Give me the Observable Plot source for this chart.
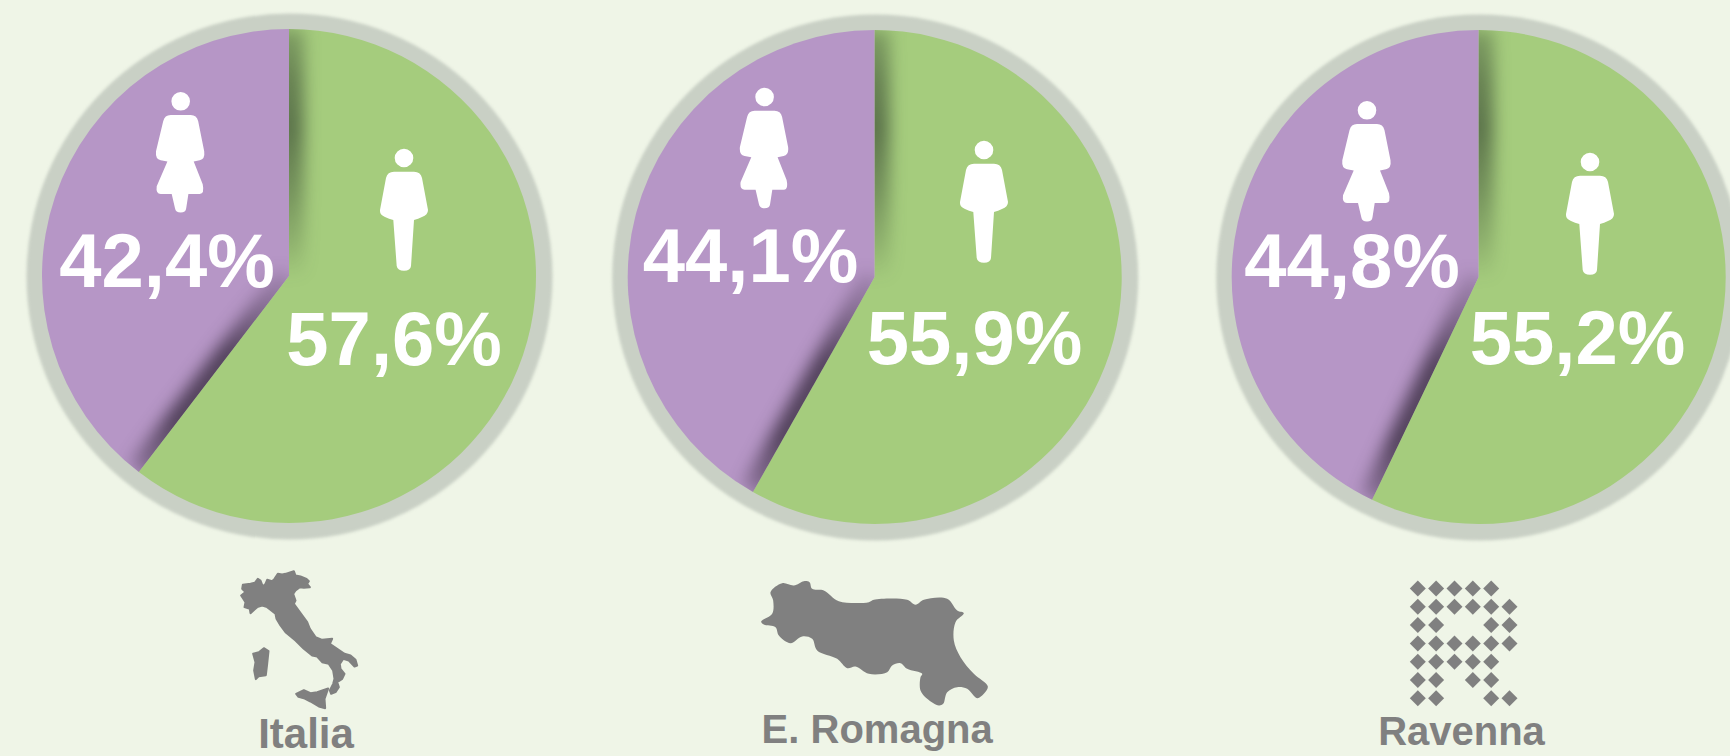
<!DOCTYPE html>
<html>
<head>
<meta charset="utf-8">
<script src="https://cdn.jsdelivr.net/npm/d3@7"></script>
<script src="https://cdn.jsdelivr.net/npm/@observablehq/plot@0.6"></script>
<style>
  html, body { margin: 0; padding: 0; background: #eff5e7; overflow: hidden; }
  svg { display: block; }
</style>
</head>
<body>
<div id="chart"></div>
<script>
// ---- data ----
const regions = ["Italia", "E. Romagna", "Ravenna"];
const menShare = [57.6, 55.9, 55.2];
const womenShare = [42.4, 44.1, 44.8];
// the slices as actually drawn in the picture (percent of the circle given to men)
const menSliceDrawn = [60.4, 58.2, 57.1];

// pictogram outlines
const italyMain = [[127,103],[150,100],[163,97],[172,85],[180,90],[187,108],[195,100],[200,88],[215,92],[222,85],[232,70],[245,72],[255,70],[280,62],[285,75],[300,78],[318,85],[325,92],[320,100],[328,110],[310,112],[298,110],[285,120],[278,130],[285,150],[280,160],[298,185],[320,215],[328,235],[345,260],[365,268],[395,265],[388,280],[410,295],[432,310],[450,315],[465,328],[470,345],[462,348],[445,330],[428,325],[418,340],[420,355],[432,370],[425,385],[410,395],[415,410],[405,425],[392,430],[388,420],[398,400],[402,385],[398,360],[385,340],[365,335],[350,318],[335,315],[310,295],[285,270],[255,245],[240,225],[228,205],[225,190],[200,170],[185,165],[170,170],[150,188],[148,175],[132,170],[135,155],[122,135],[135,125],[125,115]];
const italySardinia = [[158,310],[175,305],[190,293],[204,302],[200,340],[196,374],[175,377],[166,386],[161,360],[165,335]];
const italySicily = [[287,430],[310,419],[330,428],[350,425],[383,414],[372,445],[374,473],[355,468],[330,453],[310,443],[294,439]];
const romagnaOutline = [[90,95],[125,68],[160,75],[190,62],[207,65],[215,85],[250,90],[295,122],[385,125],[400,118],[500,118],[525,133],[550,118],[620,115],[650,150],[670,158],[645,185],[640,240],[660,290],[700,340],[742,378],[730,400],[710,413],[680,385],[650,380],[620,395],[608,430],[595,435],[560,415],[540,390],[540,350],[545,340],[500,325],[480,308],[455,315],[440,335],[385,340],[345,318],[320,323],[290,295],[230,270],[215,235],[185,228],[150,248],[115,225],[105,200],[70,192],[62,183],[95,160],[98,120]];
const ravennaRows = ["11111.", "111111", "11..11", "111111", "11111.", "11.11.", "11..11"];

// ---- layout and style ----
const W = 1730, H = 756, R = 247;
const pieX = [289, 874.7, 1478.7], pieY = [276, 277, 277];
const womanHead = [[180.7, 101.3], [764.6, 97], [1367, 110.3]];
const manHead = [[404, 158], [984, 150], [1590, 162]];
const womenText = [[166.5, 288], [750, 283], [1351.6, 288]];
const menText = [[393.6, 366], [974, 365.5], [1577, 365.5]];
const nameText = [[305.5, 749.5], [876.7, 744], [1461, 746]];
const nameSize = [42, 40, 40];
const PURPLE = "#b696c6", GREEN = "#a5cc7d", RING = "#c9d0c5", GREY = "#808080";
const FONT = "'Liberation Sans', Arial, sans-serif";
const fmt = v => v.toFixed(1).replace(".", ",") + "%";

const WOMAN = "M-10,13.7H10Q16,13.7 17.5,20L23.5,50Q24.5,58 19,59L13,60.3L22,83Q24,92.7 19,92.7H7.7L5.5,107Q5,111.3 0,111.3Q-5,111.3 -5.7,107L-9,92.7H-20Q-25,92.7 -24,85L-13.3,60.3L-20,59Q-25.5,58 -24.7,50L-17.5,20Q-16,13.7 -10,13.7Z M9.3,0A9.3,9.3 0 1 1 -9.3,0A9.3,9.3 0 1 1 9.3,0Z";
const MAN = "M-10,13.7H10Q16.5,13.7 18,20L24,52Q24,57 18,59Q14,61 10,62L7,108Q6.5,112.7 0,112.7Q-6.5,112.7 -7.3,108L-10.7,62Q-15,61 -19,59Q-24.5,57 -24,52L-18,20Q-16.5,13.7 -10,13.7Z M9.3,0A9.3,9.3 0 1 1 -9.3,0A9.3,9.3 0 1 1 9.3,0Z";

const pies = regions.map((name, i) => ({i, name, men: menShare[i], women: womenShare[i], drawn: menSliceDrawn[i], cx: pieX[i], cy: pieY[i]}));

const svgNS = "http://www.w3.org/2000/svg";
const el = (tag, attrs, parent) => {
  const n = document.createElementNS(svgNS, tag);
  for (const k in attrs) n.setAttribute(k, attrs[k]);
  if (parent) parent.appendChild(n);
  return n;
};

// slices and the soft shadows that fall along the two slice edges
function sliceMark(index, {x, y}) {
  const g = el("g", {});
  const defs = el("defs", {}, g);
  const arc = d3.arc().innerRadius(0).outerRadius(R);
  const tau = 2 * Math.PI;
  for (const p of pies) {
    const cx = x(p.cx), cy = y(p.cy);
    const a = p.drawn / 100 * tau;
    const pG = el("g", {transform: `translate(${cx},${cy})`}, g);
    const menPath = arc({startAngle: 0, endAngle: a});
    const womenPath = arc({startAngle: a, endAngle: tau});
    el("path", {d: womenPath, fill: PURPLE}, pG);
    el("path", {d: menPath, fill: GREEN}, pG);
    const c1 = el("clipPath", {id: "clipM" + p.i}, defs); el("path", {d: menPath}, c1);
    const c2 = el("clipPath", {id: "clipW" + p.i}, defs); el("path", {d: womenPath}, c2);
    const ex = R * Math.sin(a), ey = -R * Math.cos(a);
    const g1 = el("linearGradient", {id: "gM" + p.i, gradientUnits: "userSpaceOnUse", x1: 0, y1: -R, x2: 0, y2: 0}, defs);
    [[0, 0.3], [0.2, 0.5], [0.4, 0.6], [0.65, 0.4], [0.85, 0.2], [1, 0.02]].forEach(([o, v]) => el("stop", {offset: o, "stop-color": "#2c3a2a", "stop-opacity": v}, g1));
    const g2 = el("linearGradient", {id: "gW" + p.i, gradientUnits: "userSpaceOnUse", x1: 0, y1: 0, x2: ex, y2: ey}, defs);
    [[0, 0.15], [0.15, 0.35], [0.4, 0.75], [0.75, 0.75], [0.95, 0.4], [1, 0.25]].forEach(([o, v]) => el("stop", {offset: o, "stop-color": "#2f2436", "stop-opacity": v}, g2));
    const s1 = el("g", {"clip-path": `url(#clipM${p.i})`}, pG);
    el("rect", {x: -15, y: -R, width: 30, height: R, fill: `url(#gM${p.i})`, style: "filter:blur(8px)"}, s1);
    const s2 = el("g", {"clip-path": `url(#clipW${p.i})`}, pG);
    el("path", {d: `M0,0L${ex},${ey}`, stroke: `url(#gW${p.i})`, "stroke-width": 26, fill: "none", style: "filter:blur(8px)"}, s2);
  }
  return g;
}

function peopleMark(index, {x, y}) {
  const g = el("g", {fill: "#ffffff"});
  pies.forEach(p => {
    const [wx, wy] = womanHead[p.i], [mx, my] = manHead[p.i];
    el("path", {d: WOMAN, transform: `translate(${x(wx)},${y(wy)})`}, g);
    el("path", {d: MAN, transform: `translate(${x(mx)},${y(my)})`}, g);
  });
  return g;
}

const outlinePoints = (pts, part, ox, oy) => pts.map(([a, b]) => ({part, px: ox + a / 3, py: oy + b / 3}));
const italy = [
  ...outlinePoints(italyMain, "main", 200, 550),
  ...outlinePoints(italySardinia, "sardinia", 200, 550),
  ...outlinePoints(italySicily, "sicily", 200, 550)
];
const romagna = outlinePoints(romagnaOutline, "er", 740, 560);
const diamonds = ravennaRows.flatMap((row, r) => [...row].flatMap((c, k) => c === "1" ? [{px: 1417.3 + k * 18.34, py: 588 + r * 18.3}] : []));
const diamondSymbol = {draw(ctx) { const s = 8; ctx.moveTo(0, -s); ctx.lineTo(s, 0); ctx.lineTo(0, s); ctx.lineTo(-s, 0); ctx.closePath(); }};

const textData = (pos, strs) => strs.map((t, i) => ({t, px: pos[i][0], py: pos[i][1]}));
const bigText = {x: "px", y: "py", text: "t", fill: "#fff", fontSize: 76, fontWeight: 700, fontFamily: FONT, textAnchor: "middle", lineAnchor: "bottom", dy: -2};

const plot = Plot.plot({
  width: W, height: H,
  margin: 0,
  x: {domain: [0, W], range: [0, W], axis: null},
  y: {domain: [0, H], range: [0, H], axis: null},
  style: {background: "transparent", overflow: "hidden"},
  marks: [
    Plot.dot(pies, {x: "cx", y: "cy", r: 263, fill: RING, stroke: "none", imageFilter: "blur(1.5px)"}),
    sliceMark,
    peopleMark,
    Plot.text(textData(womenText, womenShare.map(fmt)), bigText),
    Plot.text(textData(menText, menShare.map(fmt)), bigText),
    Plot.line(italy, {x: "px", y: "py", z: "part", fill: GREY, stroke: GREY, strokeWidth: 2, curve: "linear-closed"}),
    Plot.line(romagna, {x: "px", y: "py", fill: GREY, stroke: "none", curve: "catmull-rom-closed"}),
    Plot.dot(diamonds, {x: "px", y: "py", symbol: diamondSymbol, fill: GREY, stroke: "none"}),
    ...regions.map((name, i) => Plot.text([name], {x: () => nameText[i][0], y: () => nameText[i][1], text: d => d, fill: GREY, fontSize: nameSize[i], fontWeight: 700, fontFamily: FONT, textAnchor: "middle", lineAnchor: "bottom", dy: -2}))
  ]
});
document.getElementById("chart").appendChild(plot);
</script>
</body>
</html>
